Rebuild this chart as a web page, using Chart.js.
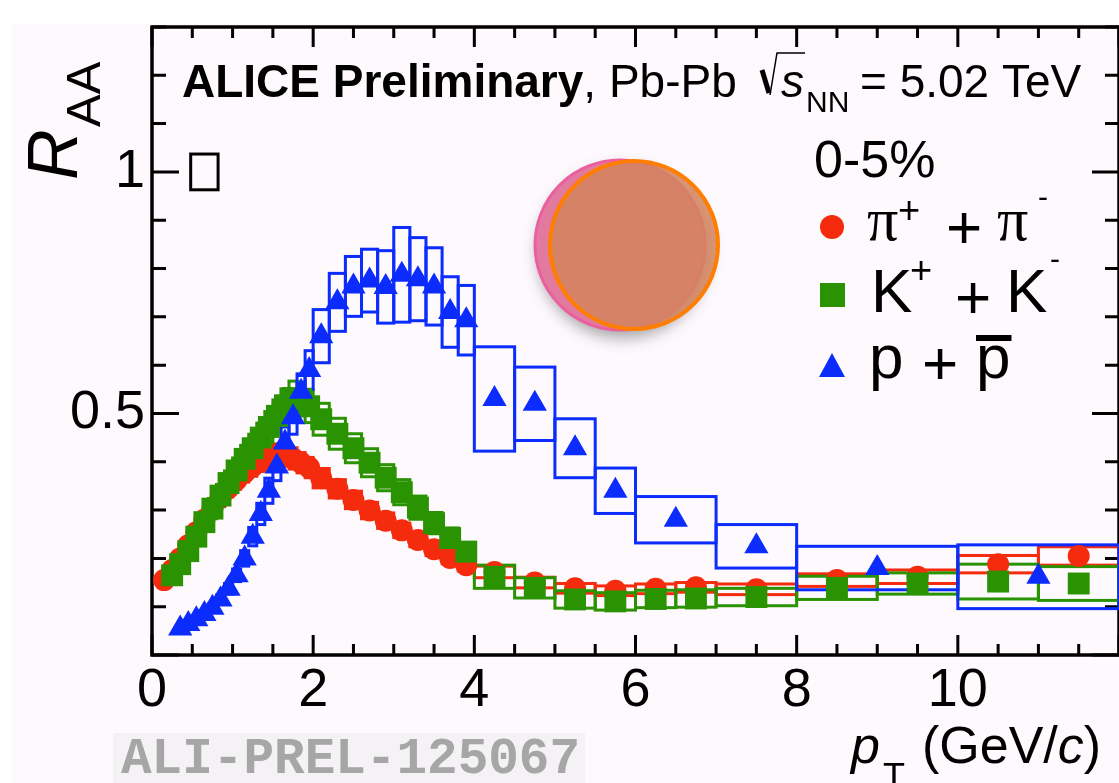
<!DOCTYPE html>
<html>
<head>
<meta charset="utf-8">
<title>RAA pi K p, Pb-Pb 5.02 TeV</title>
<script src="https://cdn.jsdelivr.net/npm/chart.js@4.4.0/dist/chart.umd.min.js"></script>
<style>
  html, body { margin: 0; padding: 0; background: #fdf9fd; }
  canvas { display: block; }
</style>
</head>
<body>
<canvas id="raa" width="1119" height="783"></canvas>
<script>
// pi+ + pi-, 0-5%: bin edges, R_AA, systematic uncertainty
const piEdges = [0.1, 0.2, 0.3, 0.4, 0.5, 0.6, 0.7, 0.8, 0.9, 1.0, 1.1, 1.2, 1.3, 1.4, 1.5, 1.6, 1.7, 1.8, 1.9, 2.0,
  2.2, 2.4, 2.6, 2.8, 3.0, 3.2, 3.4, 3.6, 3.8, 4.0,
  4.5, 5.0, 5.5, 6.0, 6.5, 7.0, 8.0, 9.0, 10.0, 11.0, 12.0];
const piR = [0.155, 0.176, 0.200, 0.227, 0.254, 0.280, 0.304, 0.326, 0.346, 0.363, 0.378, 0.391, 0.401, 0.409, 0.415, 0.413, 0.407, 0.398, 0.388,
  0.366, 0.344, 0.321, 0.299, 0.278, 0.258, 0.238, 0.219, 0.201, 0.186,
  0.172, 0.150, 0.138, 0.133, 0.137, 0.140, 0.136, 0.155, 0.162, 0.188, 0.205];
const piSys = [0.010, 0.012, 0.013, 0.014, 0.015, 0.016, 0.017, 0.018, 0.019, 0.020, 0.020, 0.021, 0.021, 0.022, 0.022, 0.022, 0.022, 0.021, 0.021,
  0.020, 0.019, 0.018, 0.017, 0.016, 0.015, 0.014, 0.013, 0.012, 0.012,
  0.012, 0.011, 0.010, 0.010, 0.010, 0.010, 0.011, 0.013, 0.014, 0.018, 0.019];

// K+ + K-
const kaEdges = [0.2, 0.3, 0.4, 0.5, 0.6, 0.7, 0.8, 0.9, 1.0, 1.1, 1.2, 1.3, 1.4, 1.5, 1.6, 1.7, 1.8, 1.9, 2.0,
  2.2, 2.4, 2.6, 2.8, 3.0, 3.2, 3.4, 3.6, 3.8, 4.0,
  4.5, 5.0, 5.5, 6.0, 6.5, 7.0, 8.0, 9.0, 10.0, 11.0, 12.0];
const kaR = [0.165, 0.188, 0.215, 0.245, 0.275, 0.303, 0.330, 0.356, 0.382, 0.406, 0.428, 0.450, 0.472, 0.495, 0.517, 0.532, 0.530, 0.515,
  0.488, 0.458, 0.428, 0.398, 0.367, 0.337, 0.305, 0.273, 0.242, 0.214,
  0.162, 0.139, 0.115, 0.111, 0.116, 0.117, 0.120, 0.139, 0.148, 0.152, 0.148];
const kaSys = [0.012, 0.013, 0.015, 0.017, 0.019, 0.021, 0.023, 0.025, 0.026, 0.028, 0.029, 0.030, 0.032, 0.033, 0.034, 0.035, 0.035, 0.034,
  0.033, 0.032, 0.030, 0.029, 0.027, 0.026, 0.024, 0.022, 0.021, 0.019,
  0.024, 0.021, 0.018, 0.018, 0.018, 0.018, 0.018, 0.024, 0.022, 0.036, 0.035];

// p + pbar
const prEdges = [0.3, 0.4, 0.5, 0.6, 0.7, 0.8, 0.9, 1.0, 1.1, 1.2, 1.3, 1.4, 1.5, 1.6, 1.7, 1.8, 1.9, 2.0,
  2.2, 2.4, 2.6, 2.8, 3.0, 3.2, 3.4, 3.6, 3.8, 4.0,
  4.5, 5.0, 5.5, 6.0, 7.0, 8.0, 10.0, 12.0];
const prR = [0.055, 0.064, 0.074, 0.085, 0.098, 0.115, 0.137, 0.165, 0.200, 0.245, 0.292, 0.340, 0.390, 0.440, 0.492, 0.545, 0.590,
  0.660, 0.730, 0.763, 0.775, 0.762, 0.787, 0.778, 0.763, 0.710, 0.693,
  0.530, 0.520, 0.428, 0.340, 0.280, 0.225, 0.180, 0.162];
const prSys = [0.005, 0.005, 0.006, 0.007, 0.008, 0.009, 0.011, 0.013, 0.016, 0.019, 0.022, 0.026, 0.029, 0.032, 0.035, 0.037, 0.040,
  0.055, 0.060, 0.062, 0.065, 0.075, 0.098, 0.086, 0.080, 0.073, 0.072,
  0.108, 0.076, 0.061, 0.047, 0.048, 0.045, 0.045, 0.066];

// normalisation uncertainty box at R_AA = 1
const normPt = [0.48, 0.82];
const normUnc = 0.037;

const xTicks = [0, 2, 4, 6, 8, 10];
const yTicks = [0.5, 1];

const RED = '#f42b0c', GREEN = '#2a9302', BLUE = '#0b2cfd';
const SANS = '"Liberation Sans", Arial, Helvetica, sans-serif';

function points(edges, vals) {
  return vals.map((v, i) => ({ x: (edges[i] + edges[i + 1]) / 2, y: v }));
}

function sysBoxes(chart, edges, vals, sys, color) {
  const { ctx, scales: { x, y } } = chart;
  ctx.save();
  ctx.strokeStyle = color;
  ctx.lineWidth = 3;
  for (let i = 0; i < vals.length; i++) {
    const x0 = x.getPixelForValue(edges[i]);
    const x1 = x.getPixelForValue(edges[i + 1]);
    const y0 = y.getPixelForValue(vals[i] + sys[i]);
    const y1 = y.getPixelForValue(vals[i] - sys[i]);
    ctx.strokeRect(x0, y0, x1 - x0, y1 - y0);
  }
  ctx.restore();
}

// ROOT-like frame: ticks pointing into the pad on all four sides
const frame = {
  id: 'frame',
  beforeDraw(chart) {
    const { ctx, width, height } = chart;
    ctx.save();
    ctx.fillStyle = '#fdf9fd';
    ctx.fillRect(0, 0, width, height);
    ctx.fillStyle = '#ffffff';
    ctx.fillRect(0, 0, width, 24);
    ctx.fillRect(0, 24, 12, height - 24);
    ctx.fillStyle = '#f4f2f4';
    ctx.fillRect(113, 733, 472, 50);
    ctx.restore();
  },
  beforeDatasetsDraw(chart) {
    const { ctx, chartArea: a, scales: { x, y } } = chart;
    ctx.save();
    ctx.strokeStyle = '#000';
    ctx.lineWidth = 3.5;
    ctx.strokeRect(a.left, a.top, a.right - a.left, a.bottom - a.top);
    ctx.lineWidth = 3;
    ctx.beginPath();
    for (let k = 0; k <= 24; k++) {
      const px = x.getPixelForValue(k * 0.5);
      const len = k % 4 === 0 ? 20 : 11;
      ctx.moveTo(px, a.bottom); ctx.lineTo(px, a.bottom - len);
      ctx.moveTo(px, a.top); ctx.lineTo(px, a.top + len);
    }
    for (let k = 0; k <= 13; k++) {
      const py = y.getPixelForValue(k * 0.1);
      const len = k % 5 === 0 ? 27 : 14;
      ctx.moveTo(a.left, py); ctx.lineTo(a.left + len, py);
      ctx.moveTo(a.right, py); ctx.lineTo(a.right - len, py);
    }
    ctx.stroke();

    // normalisation box
    ctx.lineWidth = 3;
    const nx0 = x.getPixelForValue(normPt[0]), nx1 = x.getPixelForValue(normPt[1]);
    const ny0 = y.getPixelForValue(1 + normUnc), ny1 = y.getPixelForValue(1 - normUnc);
    ctx.strokeRect(nx0, ny0, nx1 - nx0, ny1 - ny0);
    ctx.restore();

    sysBoxes(chart, piEdges, piR, piSys, RED);
    sysBoxes(chart, kaEdges, kaR, kaSys, GREEN);
    sysBoxes(chart, prEdges, prR, prSys, BLUE);
  }
};

function put(ctx, txt, font, x, y) {
  ctx.font = font;
  ctx.fillText(txt, x, y);
  return x + ctx.measureText(txt).width;
}

const annotations = {
  id: 'annotations',
  afterDraw(chart) {
    const { ctx } = chart;
    ctx.save();
    ctx.fillStyle = '#000';
    ctx.textBaseline = 'alphabetic';

    // header
    let cx = put(ctx, 'ALICE Preliminary', 'bold 46px ' + SANS, 182, 97);
    put(ctx, ', Pb-Pb', '46px ' + SANS, cx, 97);
    ctx.strokeStyle = '#000';
    ctx.lineWidth = 5;
    ctx.beginPath(); ctx.moveTo(762, 70); ctx.lineTo(769, 93); ctx.stroke();
    ctx.lineWidth = 1.5;
    ctx.beginPath(); ctx.moveTo(770, 95); ctx.lineTo(777, 53); ctx.lineTo(805, 53); ctx.stroke();
    put(ctx, 's', 'italic 46px ' + SANS, 781, 97);
    put(ctx, 'NN', '30px ' + SANS, 806, 112);
    put(ctx, '= 5.02 TeV', '46px ' + SANS, 860, 97);

    // legend
    put(ctx, '0-5%', '52px ' + SANS, 814, 177);
    ctx.fillStyle = RED;
    ctx.beginPath(); ctx.arc(832, 227, 12, 0, Math.PI * 2); ctx.fill();
    ctx.fillStyle = GREEN;
    ctx.fillRect(820, 283, 25, 24);
    ctx.fillStyle = BLUE;
    ctx.beginPath(); ctx.moveTo(832, 353); ctx.lineTo(845, 377); ctx.lineTo(819, 377); ctx.closePath(); ctx.fill();

    ctx.fillStyle = '#000';
    const big = '62px ' + SANS, sup = '38px ' + SANS, pi = '62px "Liberation Serif", "Times New Roman", serif';
    put(ctx, 'π', pi, 867, 240);
    put(ctx, '+', sup, 898, 223);
    put(ctx, '+', big, 946, 248);
    put(ctx, 'π', pi, 997, 240);
    put(ctx, '-', '30px ' + SANS, 1038, 207);

    put(ctx, 'K', big, 871, 312);
    put(ctx, '+', sup, 910, 283);
    put(ctx, '+', big, 955, 318);
    put(ctx, 'K', big, 1006, 312);
    put(ctx, '-', '30px ' + SANS, 1050, 269);

    put(ctx, 'p', big, 869, 378);
    put(ctx, '+', big, 922, 384);
    cx = put(ctx, 'p', big, 976, 378);
    ctx.fillRect(976, 335, cx - 976 + 1, 6);

    // y axis title R_AA, rotated
    ctx.save();
    ctx.translate(77, 180);
    ctx.rotate(-Math.PI / 2);
    put(ctx, 'R', 'italic 70px ' + SANS, 0, 0);
    put(ctx, 'AA', '49px ' + SANS, 53, 23);
    ctx.restore();

    // x axis title p_T (GeV/c)
    put(ctx, 'p', 'italic 52px ' + SANS, 851, 763);
    put(ctx, 'T', '36px ' + SANS, 883, 789);
    cx = put(ctx, '(GeV/', '52px ' + SANS, 922, 763);
    cx = put(ctx, 'c', 'italic 52px ' + SANS, cx, 763);
    put(ctx, ')', '52px ' + SANS, cx, 763);

    // figure id
    ctx.fillStyle = '#a6a6a6';
    put(ctx, 'ALI-PREL-125067', 'bold 51px "Liberation Mono", "Courier New", monospace', 121, 773);

    // overlay disc in the upper middle of the pad
    ctx.shadowColor = 'rgba(0,0,0,0.35)';
    ctx.shadowBlur = 16;
    ctx.shadowOffsetX = 3;
    ctx.shadowOffsetY = 8;
    ctx.beginPath(); ctx.arc(620, 245, 85, 0, Math.PI * 2);
    ctx.fillStyle = '#e27a9f'; ctx.fill();
    ctx.shadowColor = 'transparent';
    ctx.lineWidth = 3; ctx.strokeStyle = '#ec5f9f'; ctx.stroke();
    ctx.beginPath(); ctx.arc(634, 245, 84, 0, Math.PI * 2);
    ctx.fillStyle = 'rgba(212,132,92,0.85)'; ctx.fill();
    ctx.lineWidth = 4; ctx.strokeStyle = '#ff7d00'; ctx.stroke();
    ctx.restore();
  }
};

new Chart(document.getElementById('raa'), {
  type: 'scatter',
  data: {
    datasets: [
      { label: 'p + pbar', data: points(prEdges, prR), pointStyle: 'triangle', pointRadius: 14,
        pointBackgroundColor: BLUE, pointBorderWidth: 0, order: 0, clip: false },
      { label: 'K+ + K-', data: points(kaEdges, kaR), pointStyle: 'rect', pointRadius: 15.5,
        pointBackgroundColor: GREEN, pointBorderWidth: 0, order: 1, clip: false },
      { label: 'pi+ + pi-', data: points(piEdges, piR), pointStyle: 'circle', pointRadius: 11,
        pointBackgroundColor: RED, pointBorderWidth: 0, order: 2, clip: false }
    ]
  },
  options: {
    responsive: false,
    animation: false,
    devicePixelRatio: 1,
    layout: { autoPadding: false, padding: { top: 27, right: -2, left: 0, bottom: 0 } },
    plugins: { legend: { display: false }, tooltip: { enabled: false } },
    scales: {
      x: {
        type: 'linear', min: 0, max: 12,
        grid: { display: false, drawTicks: false },
        border: { display: false },
        afterBuildTicks: s => { s.ticks = xTicks.map(v => ({ value: v })); },
        ticks: { color: '#000', font: { family: SANS, size: 54 }, padding: 4, autoSkip: false, maxRotation: 0,
                 callback: v => String(v) },
        afterFit: s => { s.height = 128; s.paddingLeft = 0; s.paddingRight = 0; }
      },
      y: {
        type: 'linear', min: 0, max: 1.3,
        grid: { display: false, drawTicks: false },
        border: { display: false },
        afterBuildTicks: s => { s.ticks = yTicks.map(v => ({ value: v })); },
        ticks: { color: '#000', font: { family: SANS, size: 54 }, padding: 7, callback: v => String(v) },
        afterFit: s => { s.width = 152; s.paddingTop = 0; s.paddingBottom = 0; }
      }
    }
  },
  plugins: [frame, annotations]
});
</script>
</body>
</html>
